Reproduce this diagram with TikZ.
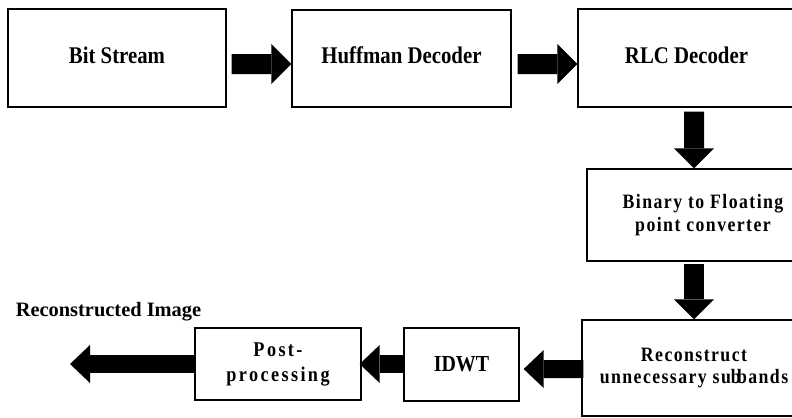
\documentclass[tikz,border=0pt]{standalone}
\usepackage{fontspec}
\setmainfont{Liberation Serif}[FakeStretch=0.87]
\newfontfamily\spcfont{Liberation Serif}[FakeStretch=0.87,LetterSpace=7]
\newfontfamily\widefont{Liberation Serif}[FakeStretch=0.87,LetterSpace=11.5]
\newfontfamily\plainfont{Liberation Serif}
\usetikzlibrary{arrows.meta,calc}
\tikzset{
  box/.style={draw=black,line width=1.3bp,rectangle,inner sep=0pt,align=center},
  bigtext/.style={font=\fontsize{24}{26}\selectfont\bfseries,text height=14bp,text depth=4bp},
  midtext/.style={font=\spcfont\fontsize{20.5}{22.5}\selectfont\bfseries},
  blk/.style={line width=20bp,-{Triangle[length=20bp,width=40bp,line width=0pt]}},
  blks/.style={line width=18bp,-{Triangle[length=20bp,width=38bp,line width=0pt]}}
}
\begin{document}
\begin{tikzpicture}[x=1bp,y=-1bp]
\useasboundingbox (0,0) rectangle (792,417);
\clip (0,0) rectangle (792,417);
% boxes
\node[box,bigtext,minimum width=218bp,minimum height=98bp] (bit) at (117,58) {Bit Stream};
\node[box,bigtext,minimum width=219bp,minimum height=97bp] (huff) at (401.5,58.5) {Huffman Decoder};
\node[box,bigtext,minimum width=217bp,minimum height=98bp] (rlc) at (686.5,58) {RLC Decoder};
\node[box,midtext,minimum width=232bp,minimum height=92bp] (bin) at (703,215) {Binary to Floating\\point converter};
\node[box,midtext,minimum width=224bp,minimum height=96bp] (rec) at (694,368) {Reconstruct\\unnecessary su\makebox[0.3em][l]{b}bands};
\node[box,font=\fontsize{23}{25}\selectfont\bfseries,minimum width=115bp,minimum height=73bp] (idwt) at (461.5,364.5) {IDWT};
\node[box,font=\widefont\fontsize{21}{25}\selectfont\bfseries,minimum width=166bp,minimum height=72bp] (post) at (278,364) {Post-\\processing};
\node[font=\plainfont\fontsize{20.5}{22}\selectfont\bfseries,inner sep=0pt] (outlabel) at (108.5,312) {Reconstructed Image};
\coordinate (out) at (70,364);
% block arrows
\draw[blk] ($(bit.east)+(5,6)$) -- ($(huff.west)+(0,5.5)$);
\draw[blk] ($(huff.east)+(6,5.5)$) -- ($(rlc.west)+(0,6)$);
\draw[blk] ($(rlc.south)+(7.5,4)$) -- ($(bin.north)+(-9,0)$);
\draw[blk] ($(bin.south)+(-9,2)$) -- ($(rec.north)+(0,0)$);
\draw[blks] ($(rec.west)+(2,1)$) -- ($(idwt.east)+(4,4.5)$);
\draw[blks] ($(idwt.west)+(2,-0.5)$) -- ($(post.east)+(-2,0)$);
\draw[blks] ($(post.west)+(2,0)$) -- (out);
\end{tikzpicture}
\end{document}
